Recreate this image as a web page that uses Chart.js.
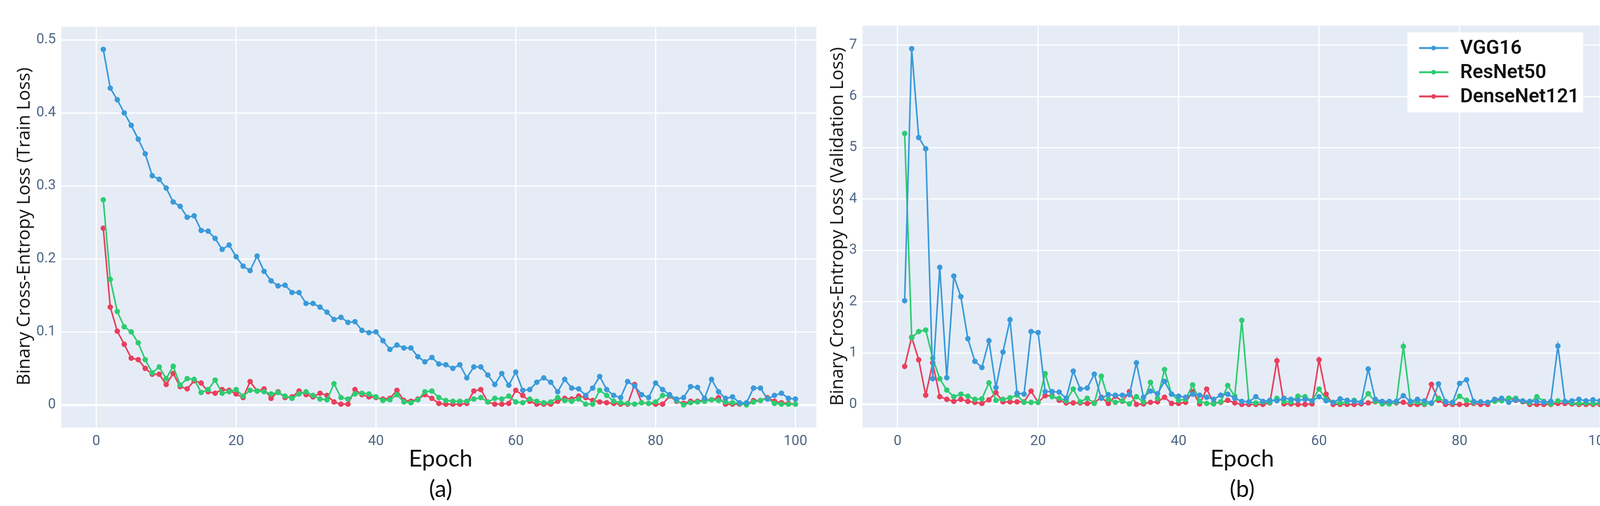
<!DOCTYPE html>
<html>
<head>
<meta charset="utf-8">
<script src="https://cdn.jsdelivr.net/npm/chart.js@4.4.1/dist/chart.umd.min.js"></script>
<style>
  body { margin: 0; background: #fff; width: 4180px; height: 1296px; position: relative; overflow: hidden; }
  .box { position: absolute; }
  .ytitle { position: absolute; font-family: "Open Sans", sans-serif; font-size: 46px; color: #111;
            transform: translate(-50%, -50%) rotate(-90deg); white-space: nowrap; }
  .xtitle { position: absolute; font-family: Lato, sans-serif; font-size: 60px; color: #111;
            transform: translate(-50%, -50%); white-space: nowrap; }
</style>
</head>
<body>
<div class="box" style="left:60px;top:33px;width:2039px;height:1117px"><canvas id="train-chart"></canvas></div>
<div class="box" style="left:2150px;top:30px;width:2030px;height:1120px"><canvas id="val-chart"></canvas></div>
<div class="ytitle" style="left:58px;top:580px">Binary Cross-Entropy Loss (Train Loss)</div>
<div class="ytitle" style="left:2140px;top:580px">Binary Cross-Entropy Loss (Validation Loss)</div>
<div class="xtitle" style="left:1128px;top:1172px">Epoch</div>
<div class="xtitle" style="left:1128px;top:1250px">(a)</div>
<div class="xtitle" style="left:3180px;top:1172px">Epoch</div>
<div class="xtitle" style="left:3180px;top:1250px">(b)</div>
<script>
// Series names and colours
const modelNames = ['VGG16', 'ResNet50', 'DenseNet121'];
const modelColors = ['#3a9ad9', '#2ecc71', '#e8405c'];

// Epoch numbers 1..100
const epochs = [];
for (let i = 1; i <= 100; i++) epochs.push(i);

// Train loss
const vggTrain = [0.487,0.434,0.418,0.4,0.383,0.364,0.344,0.314,0.309,0.297,0.278,0.272,0.257,0.259,0.239,0.238,0.228,0.213,0.219,0.203,
  0.19,0.184,0.204,0.183,0.17,0.163,0.164,0.154,0.154,0.139,0.139,0.134,0.127,0.117,0.12,0.113,0.114,0.102,0.099,0.1,
  0.088,0.076,0.082,0.078,0.078,0.066,0.059,0.065,0.056,0.055,0.05,0.055,0.037,0.052,0.052,0.041,0.028,0.043,0.027,0.045,
  0.02,0.021,0.031,0.037,0.031,0.018,0.035,0.023,0.022,0.013,0.023,0.039,0.021,0.013,0.01,0.032,0.026,0.014,0.01,0.03,
  0.021,0.014,0.008,0.01,0.025,0.024,0.009,0.035,0.018,0.009,0.011,0.003,0.003,0.023,0.023,0.008,0.013,0.016,0.009,0.008];
const resnetTrain = [0.281,0.172,0.128,0.107,0.1,0.085,0.062,0.044,0.052,0.036,0.053,0.027,0.036,0.035,0.017,0.021,0.034,0.016,0.018,0.021,
  0.012,0.02,0.019,0.018,0.015,0.017,0.012,0.009,0.015,0.018,0.013,0.008,0.007,0.029,0.01,0.008,0.015,0.016,0.015,0.011,
  0.006,0.007,0.014,0.004,0.003,0.007,0.018,0.019,0.01,0.006,0.005,0.005,0.005,0.008,0.01,0.004,0.009,0.008,0.012,0.004,
  0.003,0.008,0.005,0.003,0.004,0.01,0.006,0.005,0.008,0.001,0.001,0.02,0.013,0.005,0.003,0.002,0.001,0.003,0.002,0.004,
  0.013,0.013,0.006,0.0,0.003,0.004,0.005,0.007,0.006,0.004,0.003,0.002,0.0,0.004,0.006,0.009,0.002,0.001,0.001,0.001];
const densenetTrain = [0.242,0.134,0.101,0.083,0.064,0.062,0.05,0.042,0.042,0.028,0.043,0.025,0.022,0.033,0.03,0.018,0.016,0.021,0.02,0.015,
  0.01,0.032,0.019,0.022,0.009,0.018,0.01,0.011,0.019,0.014,0.011,0.016,0.013,0.004,0.001,0.001,0.021,0.014,0.011,0.01,
  0.008,0.009,0.02,0.006,0.005,0.008,0.014,0.009,0.002,0.001,0.001,0.001,0.002,0.019,0.021,0.004,0.001,0.001,0.002,0.02,
  0.013,0.005,0.001,0.001,0.001,0.005,0.009,0.008,0.012,0.01,0.006,0.004,0.003,0.002,0.001,0.001,0.028,0.003,0.002,0.001,
  0.001,0.012,0.005,0.002,0.005,0.005,0.007,0.007,0.01,0.001,0.001,0.001,0.001,0.006,0.006,0.01,0.005,0.003,0.002,0.001];

// Validation loss
const vggVal = [2.02,6.93,5.2,4.98,0.5,2.67,0.52,2.5,2.1,1.28,0.84,0.72,1.24,0.33,1.02,1.65,0.22,0.2,1.42,1.4,
  0.25,0.25,0.24,0.12,0.65,0.3,0.32,0.59,0.12,0.19,0.18,0.18,0.19,0.81,0.14,0.26,0.21,0.45,0.2,0.16,
  0.14,0.2,0.18,0.14,0.1,0.18,0.2,0.12,0.06,0.05,0.15,0.06,0.08,0.07,0.12,0.1,0.08,0.1,0.07,0.15,
  0.07,0.04,0.11,0.08,0.06,0.04,0.69,0.1,0.06,0.06,0.06,0.17,0.06,0.1,0.07,0.03,0.4,0.05,0.04,0.41,
  0.48,0.06,0.05,0.04,0.1,0.12,0.04,0.09,0.07,0.06,0.06,0.04,0.06,1.14,0.06,0.07,0.1,0.07,0.09,0.07];
const resnetVal = [5.28,1.3,1.42,1.45,0.9,0.5,0.28,0.15,0.2,0.16,0.1,0.11,0.42,0.08,0.1,0.13,0.18,0.04,0.04,0.04,
  0.6,0.15,0.12,0.07,0.3,0.05,0.12,0.02,0.55,0.1,0.04,0.07,0.01,0.15,0.05,0.43,0.12,0.68,0.2,0.08,
  0.1,0.38,0.06,0.02,0.01,0.05,0.37,0.16,1.64,0.05,0.03,0.05,0.04,0.12,0.06,0.05,0.16,0.15,0.07,0.3,
  0.1,0.04,0.03,0.05,0.08,0.04,0.21,0.06,0.01,0.01,0.04,1.13,0.04,0.05,0.01,0.02,0.12,0.06,0.03,0.16,
  0.08,0.04,0.05,0.04,0.06,0.07,0.12,0.12,0.06,0.03,0.15,0.06,0.01,0.07,0.06,0.03,0.02,0.03,0.02,0.03];
const densenetVal = [0.74,1.31,0.87,0.18,0.81,0.15,0.1,0.06,0.1,0.06,0.04,0.02,0.09,0.23,0.05,0.05,0.05,0.05,0.26,0.04,
  0.17,0.17,0.08,0.03,0.03,0.03,0.02,0.03,0.14,0.02,0.16,0.06,0.25,0.0,0.01,0.04,0.05,0.14,0.02,0.02,
  0.04,0.25,0.01,0.3,0.03,0.04,0.08,0.03,0.0,0.0,0.0,0.0,0.03,0.85,0.01,0.01,0.0,0.0,0.01,0.87,
  0.2,0.0,0.0,0.0,0.0,0.01,0.03,0.05,0.05,0.02,0.03,0.04,0.0,0.0,0.0,0.39,0.08,0.0,0.0,0.0,
  0.0,0.02,0.0,0.0,0.1,0.08,0.12,0.08,0.05,0.0,0.0,0.0,0.0,0.02,0.02,0.01,0.0,0.0,0.0,0.0];

// Plot background like plotly
const plotBg = {
  id: 'plotBg',
  beforeDraw(chart) {
    const { ctx, chartArea: a } = chart;
    ctx.save();
    ctx.fillStyle = '#e5ecf6';
    ctx.fillRect(a.left, a.top, a.right - a.left, a.bottom - a.top);
    ctx.restore();
  }
};

// Legend box in the top right of the plot
const boxLegend = {
  id: 'boxLegend',
  afterDraw(chart, args, opts) {
    if (!opts.show) return;
    const ctx = chart.ctx;
    const x = opts.x, y = opts.y;
    ctx.save();
    ctx.fillStyle = '#ffffff';
    ctx.fillRect(x, y, 450, 205);
    ctx.font = '600 50px "Liberation Sans Narrow", "Roboto", sans-serif';
    ctx.textBaseline = 'middle';
    chart.data.datasets.forEach((ds, i) => {
      const cy = y + 40 + i * 62;
      ctx.strokeStyle = ds.borderColor;
      ctx.lineWidth = 5;
      ctx.beginPath();
      ctx.moveTo(x + 30, cy);
      ctx.lineTo(x + 105, cy);
      ctx.stroke();
      ctx.fillStyle = ds.borderColor;
      ctx.beginPath();
      ctx.arc(x + 67, cy, 6, 0, Math.PI * 2);
      ctx.fill();
      ctx.fillStyle = '#111';
      ctx.fillText(ds.label, x + 135, cy + 2);
    });
    ctx.restore();
  }
};

function makeDatasets(series) {
  return series.map((values, i) => ({
    label: modelNames[i],
    data: values.map((v, j) => ({ x: epochs[j], y: v })),
    borderColor: modelColors[i],
    backgroundColor: modelColors[i],
    borderWidth: 4,
    pointRadius: 5,
    pointHoverRadius: 5,
    tension: 0
  }));
}

const tickFont = { family: '"Liberation Sans Narrow", "Roboto", sans-serif', size: 36 };

function makeChart(id, series, yMin, yMax, yStep, yAxisWidth, padRight, legend) {
  return new Chart(document.getElementById(id), {
    type: 'line',
    data: { datasets: makeDatasets(series) },
    options: {
      responsive: true,
      maintainAspectRatio: false,
      animation: false,
      layout: { padding: { right: padRight } },
      scales: {
        x: {
          type: 'linear',
          min: -5, max: 103,
          afterFit: (s) => { s.height = 55; },
          afterBuildTicks: (s) => { s.ticks = [0, 20, 40, 60, 80, 100].map(v => ({ value: v })); },
          grid: { color: '#ffffff', lineWidth: 3, drawTicks: false },
          border: { display: false },
          ticks: { color: '#506784', font: tickFont, padding: 14 }
        },
        y: {
          min: yMin, max: yMax,
          afterFit: (s) => { s.width = yAxisWidth; },
          afterBuildTicks: (s) => {
            const t = [];
            for (let v = 0; v <= yMax + 1e-9; v += yStep) t.push({ value: Math.round(v * 100) / 100 });
            s.ticks = t;
          },
          grid: {
            color: '#ffffff', drawTicks: false,
            lineWidth: (c) => (c.tick && c.tick.value === 0 ? 5 : 3)
          },
          border: { display: false },
          ticks: { color: '#506784', font: tickFont, padding: 14, callback: (v) => String(v) }
        }
      },
      plugins: {
        legend: { display: false },
        tooltip: { enabled: false },
        boxLegend: legend
      }
    },
    plugins: [plotBg, boxLegend]
  });
}

makeChart('train-chart', [vggTrain, resnetTrain, densenetTrain], -0.031, 0.518, 0.1, 97, 0, { show: false });
makeChart('val-chart', [vggVal, resnetVal, densenetVal], -0.45, 7.38, 1, 58, 30, { show: true, x: 1453, y: 53 });
</script>
</body>
</html>
